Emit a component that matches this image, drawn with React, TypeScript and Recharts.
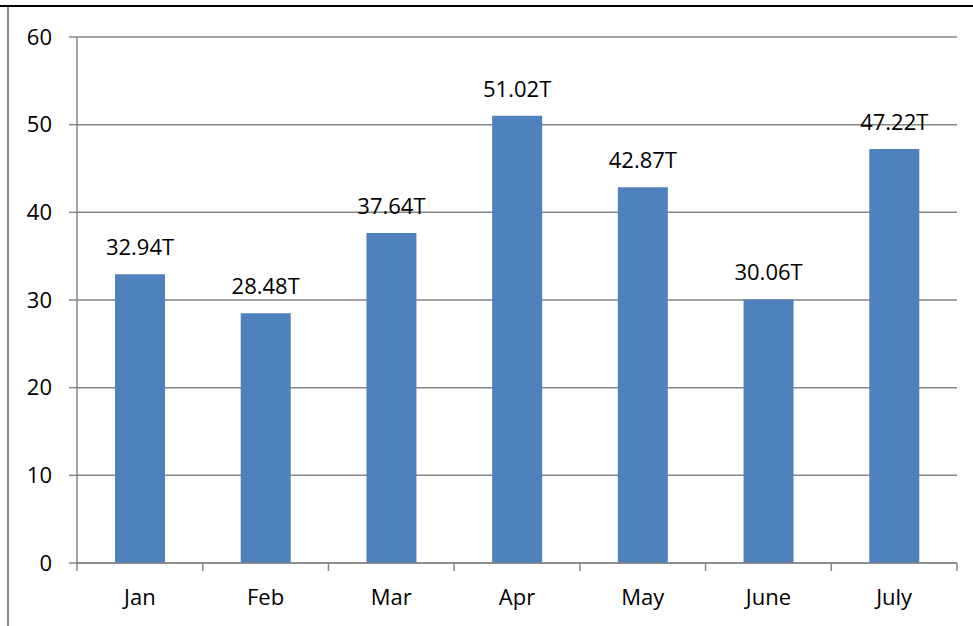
import { Bar, BarChart, CartesianGrid, LabelList, XAxis, YAxis } from "recharts";

const months = ["Jan", "Feb", "Mar", "Apr", "May", "June", "July"];
const values = [32.94, 28.48, 37.64, 51.02, 42.87, 30.06, 47.22];
const yTicks = [0, 10, 20, 30, 40, 50, 60];

const data = months.map((month, i) => ({ month, value: values[i] }));

const GRAY = "#868686";
const FONT = "'Open Sans', sans-serif";

// category ticks: label in the middle, tick marks on the band edges
function MonthTick(props: any) {
  const { x, y, payload, index, visibleTicksCount, width } = props;
  const half = payload?.offset || width / visibleTicksCount / 2;
  const last = index === visibleTicksCount - 1;
  return (
    <g>
      <line x1={x - half} x2={x - half} y1={y} y2={y + 8} stroke={GRAY} strokeWidth={1.5} />
      {last && <line x1={x + half} x2={x + half} y1={y} y2={y + 8} stroke={GRAY} strokeWidth={1.5} />}
      <text x={x} y={y + 42} textAnchor="middle" fill="#000" fontSize={22} fontFamily={FONT}>
        {payload.value}
      </text>
    </g>
  );
}

export default function App() {
  return (
    <div style={{ position: "absolute", left: 0, top: 0, width: 973, height: 626, background: "#fff", fontFamily: FONT }}>
      <div style={{ position: "absolute", left: 0, top: 5, width: 973, height: 2, background: "#000" }} />
      <div style={{ position: "absolute", left: 7, top: 7, width: 2, height: 619, background: GRAY }} />
      <BarChart
        width={973}
        height={626}
        data={data}
        margin={{ top: 37, right: 16, left: 0, bottom: 0 }}
        barCategoryGap={0}
        style={{ position: "absolute", left: 0, top: 0 }}
      >
        <CartesianGrid vertical={false} stroke={GRAY} strokeWidth={1.5} />
        <XAxis
          dataKey="month"
          height={63}
          axisLine={{ stroke: GRAY, strokeWidth: 1.5 }}
          tickLine={false}
          tickSize={0}
          tickMargin={0}
          interval={0}
          tick={<MonthTick />}
        />
        <YAxis
          width={77}
          domain={[0, 60]}
          ticks={yTicks}
          interval={0}
          axisLine={{ stroke: GRAY, strokeWidth: 1.5 }}
          tickLine={{ stroke: GRAY, strokeWidth: 1.5 }}
          tickSize={8}
          tickMargin={17}
          tick={{ fill: "#000", fontSize: 22, fontFamily: FONT }}
        />
        <Bar dataKey="value" fill="#4f81bd" barSize={50} isAnimationActive={false}>
          <LabelList
            dataKey="value"
            position="top"
            offset={19}
            formatter={(v: any) => `${v}T`}
            fill="#000"
            fontSize={22}
            fontFamily={FONT}
          />
        </Bar>
      </BarChart>
    </div>
  );
}
